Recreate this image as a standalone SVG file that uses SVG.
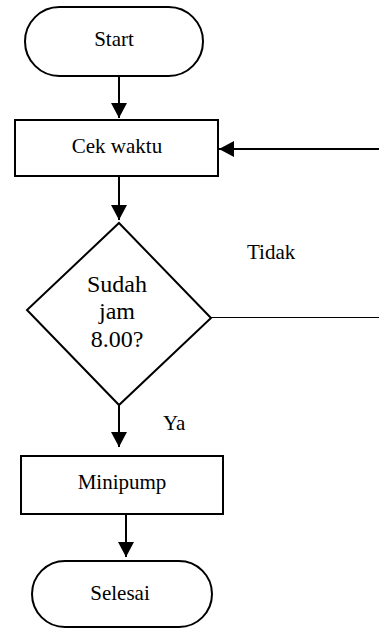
<svg xmlns="http://www.w3.org/2000/svg" width="379" height="629" viewBox="0 0 379 629">
  <style>
    .shape { fill: #ffffff; stroke: #000000; stroke-width: 2; }
    .line { fill: none; stroke: #000000; stroke-width: 2; }
    .thin { fill: none; stroke: #000000; stroke-width: 1.2; }
    .label { font-family: "Liberation Serif", "Times New Roman", serif; font-size: 21px; fill: #000000; text-anchor: middle; }
    .big { font-size: 24px; }
    .free { text-anchor: start; }
  </style>
  <defs>
    <marker id="arrow" viewBox="0 0 16 16" refX="15" refY="8" markerWidth="16" markerHeight="16" markerUnits="userSpaceOnUse" orient="auto">
      <path d="M0,0 L15,8 L0,16 Z" fill="#000000"/>
    </marker>
  </defs>

  <rect width="379" height="629" fill="#ffffff"/>

  <!-- connectors -->
  <g id="connectors">
    <line class="line" x1="119" y1="76" x2="119" y2="118" marker-end="url(#arrow)"/>
    <line class="line" x1="119" y1="176" x2="119" y2="220" marker-end="url(#arrow)"/>
    <line class="line" x1="119" y1="405" x2="119" y2="447" marker-end="url(#arrow)"/>
    <line class="line" x1="126" y1="514" x2="126" y2="557" marker-end="url(#arrow)"/>
    <line class="thin" x1="211" y1="317.5" x2="379" y2="317.5"/>
    <line class="line" x1="379" y1="149" x2="219" y2="149" marker-end="url(#arrow)"/>
    <text class="label free" x="247" y="259">Tidak</text>
    <text class="label free" x="163" y="430">Ya</text>
  </g>

  <!-- start terminal -->
  <g id="start">
    <rect class="shape" x="25" y="7" width="178" height="69" rx="34.5" ry="34.5"/>
    <text class="label" x="114" y="46">Start</text>
  </g>

  <!-- read the clock -->
  <g id="cek-waktu">
    <rect class="shape" x="15" y="120" width="203" height="56"/>
    <text class="label" x="117" y="153">Cek waktu</text>
  </g>

  <!-- time check decision -->
  <g id="sudah-jam">
    <polygon class="shape" points="119,223 211,318 119,405 27,310"/>
    <text class="label big" x="117" y="292">Sudah</text>
    <text class="label big" x="117" y="319">jam</text>
    <text class="label big" x="117" y="347">8.00?</text>
  </g>

  <!-- pump action -->
  <g id="minipump">
    <rect class="shape" x="21" y="456" width="202" height="58"/>
    <text class="label" x="122" y="489">Minipump</text>
  </g>

  <!-- end terminal -->
  <g id="selesai">
    <rect class="shape" x="32" y="561" width="180" height="66" rx="33" ry="33"/>
    <text class="label" x="120" y="600">Selesai</text>
  </g>
</svg>
